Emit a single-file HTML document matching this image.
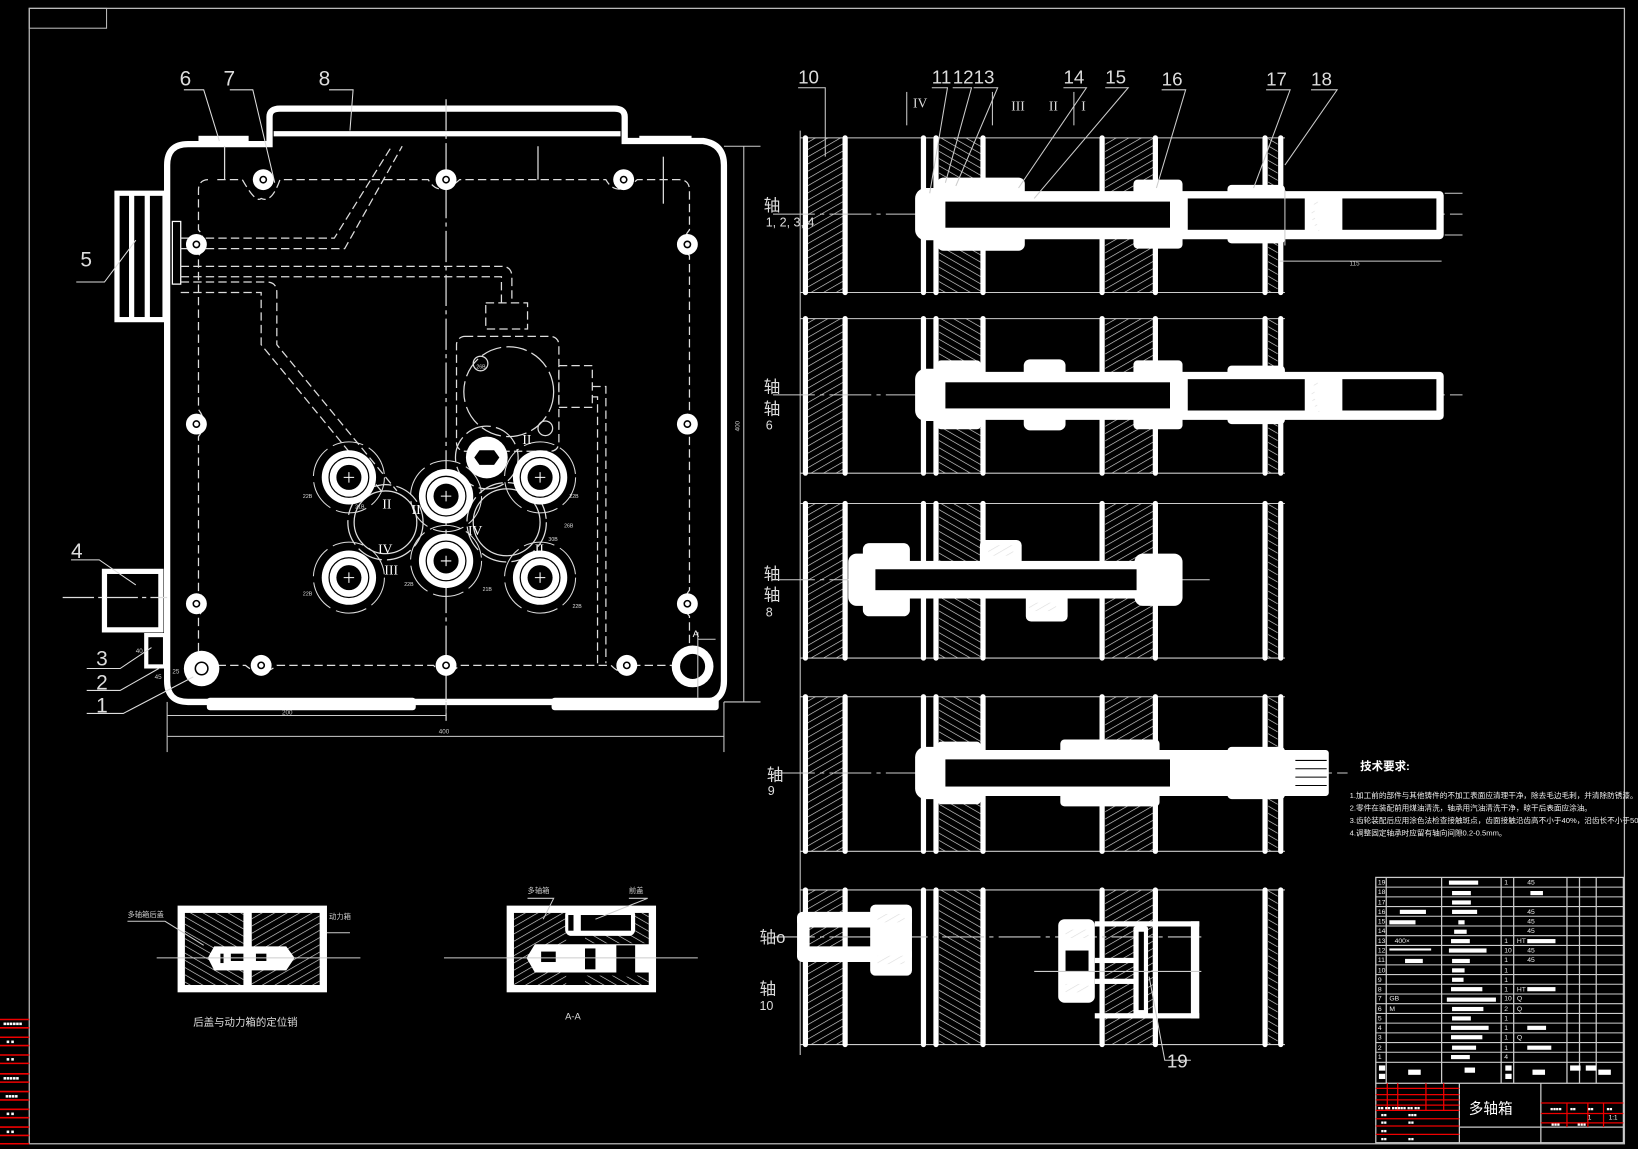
<!DOCTYPE html>
<html><head><meta charset="utf-8"><style>html,body{margin:0;padding:0;background:#000;overflow:hidden}svg{display:block}</style></head>
<body>
<svg width="1638" height="1149" viewBox="0 0 1568 1100" preserveAspectRatio="none" xmlns="http://www.w3.org/2000/svg" font-family="Liberation Sans, Noto Sans CJK SC, sans-serif">
<defs>
<pattern id="h1" width="6" height="6" patternUnits="userSpaceOnUse" patternTransform="rotate(60)"><line x1="0" y1="0" x2="0" y2="6" stroke="#ddd" stroke-width="1.2"/></pattern>
<pattern id="h2" width="6" height="6" patternUnits="userSpaceOnUse" patternTransform="rotate(-60)"><line x1="0" y1="0" x2="0" y2="6" stroke="#ddd" stroke-width="1.2"/></pattern>
<g id="plates">
<line x1="766" y1="0" x2="1230" y2="0" stroke="#ccc" stroke-width="1"/>
<line x1="766" y1="148" x2="1230" y2="148" stroke="#ccc" stroke-width="1"/>
<rect x="773" y="0" width="34" height="148" fill="url(#h1)"/>
<rect x="899" y="0" width="40" height="148" fill="url(#h2)"/>
<rect x="1058" y="0" width="46" height="148" fill="url(#h1)"/>
<rect x="1214" y="0" width="9" height="148" fill="url(#h2)"/>
<g stroke="#fff" stroke-width="5" stroke-linecap="round">
<line x1="771" y1="0" x2="771" y2="148"/><line x1="809" y1="0" x2="809" y2="148"/>
<line x1="884" y1="0" x2="884" y2="148"/><line x1="896" y1="0" x2="896" y2="148"/><line x1="941" y1="0" x2="941" y2="148"/>
<line x1="1055" y1="0" x2="1055" y2="148"/><line x1="1106" y1="0" x2="1106" y2="148"/>
<line x1="1211" y1="0" x2="1211" y2="148"/><line x1="1226" y1="0" x2="1226" y2="148"/>
</g>
</g>
<g id="sp"><circle r="26" fill="#fff"/><circle r="19" fill="none" stroke="#000" stroke-width="1.2"/><circle r="12" fill="#000"/><path d="M-5 0H5M0 -5V5" stroke="#fff" stroke-width="1"/><circle r="34" fill="none" stroke="#ddd" stroke-width="1" stroke-dasharray="30 6"/></g>
<g id="bh"><circle r="10" fill="#fff"/><circle r="3" fill="none" stroke="#000" stroke-width="1.5"/></g>
</defs>
<rect width="1568" height="1100" fill="#000"/>
<rect x="28" y="8" width="1527" height="1087" fill="none" stroke="#bbb" stroke-width="1.2"/>
<rect x="28" y="8" width="74" height="19" fill="none" stroke="#bbb" stroke-width="1"/>
<g stroke="#e00" stroke-width="1.5">
<line x1="0" y1="976" x2="28" y2="976"/><line x1="0" y1="984" x2="28" y2="984"/>
<line x1="0" y1="993" x2="28" y2="993"/><line x1="0" y1="1001" x2="28" y2="1001"/>
<line x1="0" y1="1010" x2="28" y2="1010"/><line x1="0" y1="1018" x2="28" y2="1018"/>
<line x1="0" y1="1028" x2="28" y2="1028"/><line x1="0" y1="1036" x2="28" y2="1036"/>
<line x1="0" y1="1045" x2="28" y2="1045"/><line x1="0" y1="1053" x2="28" y2="1053"/>
<line x1="0" y1="1062" x2="28" y2="1062"/><line x1="0" y1="1070" x2="28" y2="1070"/>
<line x1="0" y1="1079" x2="28" y2="1079"/><line x1="0" y1="1087" x2="28" y2="1087"/>
<line x1="0" y1="1095" x2="28" y2="1095"/>
</g>
<g fill="#fff" font-size="5"><text x="3" y="982">■■■■■■</text><text x="6" y="999">■ ■</text><text x="6" y="1016">■ ■</text><text x="3" y="1034">■■■■■</text><text x="5" y="1051">■■■■</text><text x="6" y="1068">■ ■</text><text x="6" y="1085">■ ■</text></g>

<g stroke="#fff" fill="none">
<path d="M160 158 Q160 138 180 138 H258 V112 Q258 104 268 104 H588 Q598 104 598 112 V135 H673 Q693 138 693 158 V652 Q693 672 673 672 H180 Q160 672 160 652 Z" stroke-width="6"/>
<line x1="262" y1="128" x2="594" y2="128" stroke-width="5"/>
<rect x="190" y="130" width="48" height="6" fill="#fff" stroke-width="0"/>
<rect x="612" y="130" width="50" height="6" fill="#fff" stroke-width="0"/>
<rect x="198" y="668" width="200" height="12" fill="#fff" stroke-width="0" rx="3"/>
<rect x="528" y="668" width="160" height="12" fill="#fff" stroke-width="0" rx="3"/>
<rect x="112" y="185" width="46" height="121" stroke-width="5"/>
<line x1="126" y1="187" x2="126" y2="305" stroke-width="5"/><line x1="141" y1="187" x2="141" y2="305" stroke-width="5"/>
<rect x="100" y="547" width="54" height="56" stroke-width="5"/>
<rect x="140" y="608" width="18" height="30" stroke-width="4"/>
<rect x="165" y="212" width="8" height="60" stroke-width="1.2"/>
</g>
<g stroke="#ddd" fill="none" stroke-width="1.2" stroke-dasharray="8 4">
<path d="M208 172 H232 Q245 195 250 190 Q260 195 268 172 H410 Q420 190 440 172 H580 Q590 190 610 172 H650 Q660 172 660 182 V220 Q650 232 660 245 V395 Q650 405 660 418 V565 Q650 578 660 590 V625 Q660 637 650 637 H610 Q597 650 585 637 H440 Q427 650 415 637 H265 Q250 650 235 637 H200 Q190 637 190 627 V590 Q200 578 190 566 V418 Q200 405 190 392 V245 Q200 232 190 220 V182 Q190 172 200 172"/>
<path d="M173 228 H320 L375 140"/><path d="M173 238 H330 L385 140"/>
<path d="M173 255 H480 Q490 255 490 265 V290"/><path d="M173 265 H480 V290"/>
<path d="M173 270 H255 Q265 270 265 280 V330 L380 470"/><path d="M173 280 H250 V330 L365 470"/>
<rect x="465" y="290" width="40" height="25"/>
<rect x="437" y="322" width="98" height="110" rx="8"/>
<rect x="535" y="350" width="32" height="40"/>
<path d="M567 370 H580 V635"/><path d="M567 380 H572 V635"/>
<line x1="215" y1="140" x2="215" y2="172" stroke-dasharray="none"/>
<line x1="515" y1="140" x2="515" y2="172" stroke-dasharray="none"/>
<line x1="635" y1="150" x2="635" y2="195" stroke-dasharray="none"/>
</g>
<g stroke="#ddd" fill="none" stroke-width="1.2">
<line x1="427" y1="95" x2="427" y2="690" stroke-dasharray="30 4 4 4"/>
<line x1="60" y1="572" x2="160" y2="572" stroke-dasharray="30 4 4 4"/>
<circle cx="487" cy="375" r="43" stroke-dasharray="20 5"/>
<circle cx="369" cy="500" r="36" stroke-dasharray="25 5"/>
<circle cx="485" cy="500" r="38" stroke-dasharray="25 5"/>
<circle cx="369" cy="500" r="30"/>
<circle cx="485" cy="500" r="32"/>
<circle cx="466" cy="438" r="30" stroke-dasharray="25 5"/>
<circle cx="460" cy="348" r="7"/><circle cx="522" cy="410" r="7"/>
</g>
<use href="#sp" x="334" y="457"/><use href="#sp" x="427" y="475"/><use href="#sp" x="517" y="457"/>
<use href="#sp" x="334" y="553"/><use href="#sp" x="427" y="537"/><use href="#sp" x="517" y="553"/>
<circle cx="466" cy="438" r="20" fill="#fff"/><polygon points="459,431 473,431 478,438 473,445 459,445 454,438" fill="#000"/>
<g fill="#fff" font-family="Liberation Serif, serif" font-size="13"><text x="362" y="530">IV</text><text x="448" y="512">IV</text><text x="366" y="487">II</text><text x="368" y="550">III</text><text x="394" y="492">II</text><text x="500" y="425">II</text><text x="512" y="530">II</text></g>
<g fill="#ddd" font-size="5"><text x="290" y="477">22B</text><text x="340" y="487">21B</text><text x="290" y="570">22B</text><text x="387" y="561">22B</text><text x="462" y="566">21B</text><text x="548" y="582">22B</text><text x="545" y="477">22B</text><text x="540" y="505">26B</text><text x="525" y="518">30B</text><text x="456" y="353">26B</text></g>
<use href="#bh" x="252" y="172"/><use href="#bh" x="427" y="172"/><use href="#bh" x="597" y="172"/>
<use href="#bh" x="188" y="234"/><use href="#bh" x="658" y="234"/><use href="#bh" x="188" y="406"/><use href="#bh" x="658" y="406"/>
<use href="#bh" x="188" y="578"/><use href="#bh" x="658" y="578"/><use href="#bh" x="250" y="637"/><use href="#bh" x="427" y="637"/><use href="#bh" x="600" y="637"/>
<circle cx="193" cy="640" r="17" fill="#fff"/><circle cx="193" cy="640" r="6" fill="none" stroke="#000" stroke-width="1.5"/>
<circle cx="663" cy="638" r="20" fill="#fff"/><circle cx="663" cy="638" r="12" fill="#000"/>
<g stroke="#ccc" stroke-width="1" fill="none">
<line x1="693" y1="140" x2="728" y2="140"/><line x1="693" y1="672" x2="728" y2="672"/><line x1="712" y1="140" x2="712" y2="672"/>
<line x1="160" y1="672" x2="160" y2="720"/><line x1="693" y1="672" x2="693" y2="720"/><line x1="160" y1="705" x2="693" y2="705"/>
<line x1="427" y1="672" x2="427" y2="690"/><line x1="160" y1="685" x2="427" y2="685"/>
<line x1="668" y1="612" x2="685" y2="612"/><line x1="668" y1="605" x2="668" y2="668"/>
</g>
<g fill="#ccc" font-size="6"><text x="708" y="413" transform="rotate(-90 708 413)">400</text><text x="420" y="702">400</text><text x="270" y="684">200</text><text x="165" y="645">25</text><text x="130" y="625">40</text><text x="148" y="650">45</text></g>
<text x="663" y="610" fill="#fff" font-size="9">A</text>
<g stroke="#ddd" stroke-width="1" fill="none">
<path d="M176 86 H195 L210 135"/><path d="M220 86 H242 L263 175"/><path d="M315 86 H338 L335 125"/>
<path d="M73 270 H100 L130 230"/><path d="M68 536 H95 L130 560"/>
<path d="M83 640 H115 L145 620"/><path d="M83 661 H115 L152 640"/><path d="M83 683 H118 L185 648"/>
</g>
<g fill="#ddd" font-size="20"><text x="172" y="82">6</text><text x="214" y="82">7</text><text x="305" y="82">8</text><text x="77" y="255">5</text><text x="68" y="534">4</text><text x="92" y="637">3</text><text x="92" y="660">2</text><text x="92" y="682">1</text></g>

<!-- bottom small views -->
<g>
<rect x="170" y="867" width="143" height="83" fill="#fff"/>
<rect x="177" y="874" width="56" height="69" fill="#000"/><rect x="241" y="874" width="65" height="69" fill="#000"/>
<rect x="177" y="874" width="56" height="69" fill="url(#h2)"/><rect x="241" y="874" width="65" height="69" fill="url(#h1)"/>
<path d="M205 906 H274 L282 917 L274 929 H205 L199 917 Z" fill="#fff"/>
<rect x="211" y="913" width="3" height="9" fill="#000"/><rect x="221" y="913" width="12" height="7" fill="#000"/><rect x="245" y="913" width="10" height="7" fill="#000"/>
<line x1="150" y1="917" x2="345" y2="917" stroke="#ccc" stroke-width="1"/>
<path d="M122 882 H158 L195 905" stroke="#ccc" fill="none" stroke-width="1"/>
<path d="M313 893 H335" stroke="#ccc" stroke-width="1"/>
<text x="122" y="878" fill="#ccc" font-size="7">多轴箱后盖</text><text x="315" y="880" fill="#ccc" font-size="7">动力箱</text>
<text x="185" y="982" fill="#ddd" font-size="10">后盖与动力箱的定位销</text>
<rect x="485" y="867" width="143" height="83" fill="#fff"/>
<rect x="492" y="874" width="129" height="69" fill="#000"/>
<rect x="492" y="874" width="50" height="69" fill="url(#h1)"/><rect x="560" y="934" width="61" height="9" fill="url(#h2)"/><rect x="560" y="895" width="61" height="8" fill="url(#h2)"/><rect x="608" y="874" width="13" height="21" fill="url(#h2)"/>
<rect x="541" y="870" width="67" height="26" rx="6" fill="#fff"/>
<rect x="556" y="876" width="48" height="15" fill="#000"/><rect x="544" y="876" width="5" height="15" fill="#000"/>
<path d="M512 904 H622 V931 H512 L504 917 Z" fill="#fff"/>
<rect x="518" y="911" width="14" height="10" fill="#000"/><rect x="560" y="908" width="10" height="20" fill="#000"/><rect x="590" y="905" width="18" height="30" fill="#000"/>
<line x1="425" y1="917" x2="668" y2="917" stroke="#ccc" stroke-width="1"/>
<path d="M505 860 H530 L520 880" stroke="#ccc" fill="none" stroke-width="1"/>
<path d="M602 860 H620 L570 880" stroke="#ccc" fill="none" stroke-width="1"/>
<text x="505" y="855" fill="#ccc" font-size="7">多轴箱</text><text x="602" y="855" fill="#ccc" font-size="7">前盖</text>
<text x="541" y="976" fill="#ddd" font-size="9">A-A</text>
</g>

<line x1="766" y1="125" x2="766" y2="1010" stroke="#ccc" stroke-width="1"/>
<use href="#plates" y="132"/><use href="#plates" y="305"/><use href="#plates" y="482"/><use href="#plates" y="667"/><use href="#plates" y="852"/>
<g stroke="#ccc" stroke-width="1" stroke-dasharray="40 5 4 5">
<line x1="740" y1="205" x2="1400" y2="205"/><line x1="740" y1="378" x2="1400" y2="378"/><line x1="740" y1="555" x2="1160" y2="555"/><line x1="740" y1="740" x2="1290" y2="740"/><line x1="740" y1="897" x2="1150" y2="897"/>
</g>
<g fill="#fff">
<rect x="876" y="180" width="52" height="50" rx="10"/><rect x="897" y="170" width="84" height="70" rx="6"/>
<rect x="1085" y="172" width="47" height="66" rx="4"/><rect x="1175" y="177" width="55" height="56" rx="4"/>
<rect x="880" y="183" width="502" height="46" rx="4"/>
</g>
<g fill="#000"><rect x="905" y="193" width="215" height="25"/><rect x="1137" y="190" width="112" height="30"/><rect x="1285" y="190" width="90" height="30"/></g>
<path d="M1265 185 Q1245 205 1265 225 L1258 205 Z" fill="url(#h1)" stroke="#fff"/>
<g stroke="#ccc" stroke-width="1"><line x1="1230" y1="182" x2="1230" y2="235"/><line x1="1225" y1="250" x2="1380" y2="250"/><line x1="1383" y1="185" x2="1400" y2="185"/><line x1="1383" y1="225" x2="1400" y2="225"/></g>
<text x="1292" y="254" fill="#ccc" font-size="6">115</text>
<g fill="#fff">
<rect x="876" y="353" width="52" height="50" rx="10"/><rect x="897" y="345" width="42" height="66" rx="4"/>
<rect x="980" y="344" width="40" height="68" rx="6"/>
<rect x="1085" y="345" width="47" height="66" rx="4"/><rect x="1175" y="350" width="55" height="56" rx="4"/>
<rect x="880" y="356" width="502" height="46" rx="4"/>
</g>
<g fill="#000"><rect x="905" y="366" width="215" height="25"/><rect x="1137" y="363" width="112" height="30"/><rect x="1285" y="363" width="90" height="30"/></g>
<path d="M1265 358 Q1245 378 1265 398 L1258 378 Z" fill="url(#h1)" stroke="#fff"/>
<g fill="#fff">
<rect x="812" y="530" width="25" height="50" rx="8"/><rect x="826" y="520" width="45" height="70" rx="6"/>
<rect x="938" y="517" width="40" height="40" rx="5"/><rect x="982" y="555" width="40" height="40" rx="5"/>
<rect x="1086" y="530" width="46" height="50" rx="8"/>
<rect x="820" y="537" width="300" height="36"/>
</g>
<rect x="838" y="545" width="250" height="20" fill="#000"/>
<rect x="946" y="522" width="24" height="10" fill="url(#h1)"/><rect x="985" y="577" width="26" height="8" fill="url(#h1)"/>
<g fill="#fff">
<rect x="876" y="715" width="52" height="50" rx="10"/><rect x="897" y="710" width="42" height="60" rx="4"/>
<rect x="1015" y="708" width="95" height="64" rx="4"/><rect x="1175" y="715" width="55" height="50" rx="4"/>
<rect x="880" y="718" width="392" height="44" rx="3"/>
</g>
<rect x="905" y="727" width="215" height="26" fill="#000"/>
<g stroke="#000" stroke-width="1"><line x1="1240" y1="728" x2="1270" y2="728"/><line x1="1240" y1="736" x2="1270" y2="736"/><line x1="1240" y1="744" x2="1270" y2="744"/><line x1="1240" y1="752" x2="1270" y2="752"/></g>
<g fill="#fff">
<rect x="763" y="873" width="110" height="15" rx="6"/><rect x="763" y="906" width="110" height="15" rx="6"/>
<rect x="763" y="873" width="12" height="48" rx="5"/>
<rect x="833" y="866" width="40" height="68" rx="5"/>
<rect x="1013" y="880" width="35" height="80" rx="6"/>
<rect x="1048" y="882" width="100" height="5"/><rect x="1048" y="970" width="100" height="5"/><rect x="1140" y="882" width="8" height="93"/>
<rect x="1048" y="917" width="40" height="5"/><rect x="1048" y="937" width="40" height="5"/>
<rect x="1085" y="887" width="14" height="85" rx="2"/>
</g>
<rect x="840" y="875" width="26" height="8" fill="url(#h1)"/><rect x="840" y="915" width="26" height="8" fill="url(#h1)"/>
<rect x="1020" y="890" width="22" height="8" fill="url(#h1)"/><rect x="1020" y="942" width="22" height="8" fill="url(#h1)"/>
<rect x="1020" y="910" width="22" height="20" fill="#000"/>
<rect x="1090" y="892" width="5" height="75" fill="#000"/>
<line x1="990" y1="930" x2="1150" y2="930" stroke="#ccc" stroke-width="1"/>
<path d="M1100 935 L1115 1015 H1140" stroke="#ccc" fill="none"/>
<g fill="#ddd" font-size="16">
<text x="731" y="202">轴</text><text x="731" y="376">轴</text><text x="731" y="397">轴</text><text x="731" y="555">轴</text><text x="731" y="575">轴</text><text x="734" y="747">轴</text><text x="727" y="903">轴o</text><text x="727" y="952">轴</text>
</g>
<g fill="#ddd" font-size="12"><text x="733" y="217">1, 2, 3, 4</text><text x="733" y="411">6</text><text x="733" y="590">8</text><text x="735" y="761">9</text><text x="727" y="967">10</text></g>
<g fill="#ddd" font-size="18">
<text x="764" y="80">10</text><text x="892" y="80">11</text><text x="912" y="80">12</text><text x="932" y="80">13</text><text x="1018" y="80">14</text><text x="1058" y="80">15</text><text x="1112" y="82">16</text><text x="1212" y="82">17</text><text x="1255" y="82">18</text><text x="1117" y="1022">19</text>
</g>
<g stroke="#ccc" stroke-width="1" fill="none">
<path d="M764 84 H790 L790 150"/><path d="M892 84 H907 L890 185"/><path d="M912 84 H930 L905 175"/><path d="M932 84 H955 L915 178"/>
<path d="M1018 84 H1040 L975 180"/><path d="M1058 84 H1080 L990 190"/><path d="M1112 86 H1135 L1107 180"/><path d="M1212 86 H1235 L1200 180"/><path d="M1255 86 H1280 L1230 158"/>
<line x1="868" y1="88" x2="868" y2="120"/><line x1="950" y1="88" x2="950" y2="120"/><line x1="1028" y1="88" x2="1028" y2="120"/>
</g>
<g fill="#ddd" font-family="Liberation Serif, serif" font-size="13"><text x="874" y="103">IV</text><text x="968" y="106">III</text><text x="1004" y="106">II</text><text x="1035" y="106">I</text></g>

<text x="1302" y="737" fill="#fff" font-size="11" font-weight="bold">技术要求:</text>
<g fill="#eee" font-size="7.3">
<text x="1292" y="764">1.加工前的部件与其他铸件的不加工表面应清理干净，除去毛边毛刺，并清除防锈漆。</text>
<text x="1292" y="776">2.零件在装配前用煤油清洗，轴承用汽油清洗干净，晾干后表面应涂油。</text>
<text x="1292" y="788">3.齿轮装配后应用涂色法检查接触斑点，齿面接触沿齿高不小于40%，沿齿长不小于50%；</text>
<text x="1292" y="800">4.调整固定轴承时应留有轴向间隙0.2-0.5mm。</text>
</g>

<g stroke="#ccc" stroke-width="1.2" fill="none">
<rect x="1317" y="840" width="237" height="254"/>
<line x1="1327" y1="840" x2="1327" y2="1037"/><line x1="1380" y1="840" x2="1380" y2="1037"/><line x1="1437" y1="840" x2="1437" y2="1037"/><line x1="1449" y1="840" x2="1449" y2="1037"/><line x1="1500" y1="840" x2="1500" y2="1037"/><line x1="1512" y1="840" x2="1512" y2="1037"/><line x1="1528" y1="840" x2="1528" y2="1037"/>
<line x1="1317" y1="1037" x2="1554" y2="1037"/>
<line x1="1397" y1="1037" x2="1397" y2="1094"/><line x1="1475" y1="1037" x2="1475" y2="1094"/><line x1="1397" y1="1079" x2="1554" y2="1079"/>
</g>
<g stroke="#ccc" stroke-width="1">
<line x1="1317" y1="849.3" x2="1554" y2="849.3"/><line x1="1317" y1="858.6" x2="1554" y2="858.6"/><line x1="1317" y1="867.9" x2="1554" y2="867.9"/><line x1="1317" y1="877.2" x2="1554" y2="877.2"/><line x1="1317" y1="886.5" x2="1554" y2="886.5"/><line x1="1317" y1="895.8" x2="1554" y2="895.8"/><line x1="1317" y1="905.1" x2="1554" y2="905.1"/><line x1="1317" y1="914.4" x2="1554" y2="914.4"/><line x1="1317" y1="923.7" x2="1554" y2="923.7"/><line x1="1317" y1="933" x2="1554" y2="933"/><line x1="1317" y1="942.3" x2="1554" y2="942.3"/><line x1="1317" y1="951.6" x2="1554" y2="951.6"/><line x1="1317" y1="960.9" x2="1554" y2="960.9"/><line x1="1317" y1="970.2" x2="1554" y2="970.2"/><line x1="1317" y1="979.5" x2="1554" y2="979.5"/><line x1="1317" y1="988.8" x2="1554" y2="988.8"/><line x1="1317" y1="998.1" x2="1554" y2="998.1"/><line x1="1317" y1="1007.4" x2="1554" y2="1007.4"/><line x1="1317" y1="1017" x2="1554" y2="1017"/>
</g>
<g fill="#eee" font-size="6.5">
<text x="1319" y="847">19</text><text x="1319" y="856">18</text><text x="1319" y="866">17</text><text x="1319" y="875">16</text><text x="1319" y="884">15</text><text x="1319" y="893">14</text><text x="1319" y="903">13</text><text x="1319" y="912">12</text><text x="1319" y="921">11</text><text x="1319" y="931">10</text><text x="1319" y="940">9</text><text x="1319" y="949">8</text><text x="1319" y="958">7</text><text x="1319" y="968">6</text><text x="1319" y="977">5</text><text x="1319" y="986">4</text><text x="1319" y="995">3</text><text x="1319" y="1005">2</text><text x="1319" y="1014">1</text>
<text x="1462" y="847">45</text><text x="1462" y="875">45</text><text x="1462" y="884">45</text><text x="1462" y="893">45</text><text x="1462" y="912">45</text><text x="1462" y="921">45</text><text x="1452" y="903">HT</text><text x="1452" y="949">HT</text><text x="1452" y="958">Q</text><text x="1452" y="968">Q</text><text x="1452" y="995">Q</text>
<text x="1440" y="847">1</text><text x="1440" y="903">1</text><text x="1440" y="912">10</text><text x="1440" y="921">1</text><text x="1440" y="931">1</text><text x="1440" y="940">1</text><text x="1440" y="949">1</text><text x="1440" y="958">10</text><text x="1440" y="968">2</text><text x="1440" y="977">1</text><text x="1440" y="986">1</text><text x="1440" y="995">1</text><text x="1440" y="1005">1</text><text x="1440" y="1014">4</text>
<text x="1335" y="903">400×</text><text x="1330" y="958">GB</text><text x="1330" y="968">M</text>
</g>
<g fill="#fff">
<rect x="1387" y="843" width="28" height="4"/><rect x="1390" y="853" width="18" height="4"/><rect x="1390" y="862" width="18" height="4"/><rect x="1390" y="871" width="24" height="4"/><rect x="1396" y="881" width="6" height="4"/><rect x="1392" y="890" width="12" height="4"/><rect x="1389" y="899" width="18" height="4"/><rect x="1387" y="908" width="36" height="4"/><rect x="1390" y="918" width="17" height="4"/><rect x="1390" y="927" width="12" height="4"/><rect x="1390" y="936" width="11" height="4"/><rect x="1389" y="945" width="30" height="4"/><rect x="1385" y="955" width="47" height="4"/><rect x="1390" y="964" width="30" height="4"/><rect x="1390" y="973" width="18" height="4"/><rect x="1389" y="982" width="36" height="4"/><rect x="1389" y="991" width="30" height="4"/><rect x="1390" y="1001" width="23" height="4"/><rect x="1389" y="1010" width="18" height="4"/>
<rect x="1465" y="853" width="12" height="4"/><rect x="1462" y="899" width="27" height="4"/><rect x="1462" y="945" width="27" height="4"/><rect x="1462" y="982" width="18" height="4"/><rect x="1462" y="1001" width="23" height="4"/><rect x="1340" y="871" width="25" height="4"/><rect x="1330" y="881" width="25" height="4"/><rect x="1345" y="918" width="17" height="4"/><rect x="1330" y="908" width="40" height="2"/>
<rect x="1320" y="1020" width="6" height="5"/><rect x="1320" y="1028" width="6" height="5"/><rect x="1348" y="1024" width="12" height="5"/><rect x="1402" y="1022" width="10" height="5"/><rect x="1441" y="1020" width="6" height="5"/><rect x="1441" y="1028" width="6" height="5"/><rect x="1467" y="1024" width="12" height="5"/><rect x="1503" y="1020" width="10" height="5"/><rect x="1518" y="1020" width="10" height="5"/><rect x="1530" y="1024" width="12" height="5"/>
</g>
<g stroke="#e00" stroke-width="1.2">
<line x1="1317" y1="1042" x2="1397" y2="1042"/><line x1="1317" y1="1048" x2="1397" y2="1048"/><line x1="1317" y1="1053" x2="1397" y2="1053"/><line x1="1317" y1="1058" x2="1397" y2="1058"/><line x1="1317" y1="1063" x2="1397" y2="1063"/><line x1="1317" y1="1071" x2="1397" y2="1071"/><line x1="1317" y1="1078" x2="1397" y2="1078"/><line x1="1317" y1="1086" x2="1397" y2="1086"/>
<line x1="1328" y1="1037" x2="1328" y2="1063"/><line x1="1338" y1="1037" x2="1338" y2="1063"/><line x1="1365" y1="1037" x2="1365" y2="1063"/><line x1="1382" y1="1037" x2="1382" y2="1063"/>
<line x1="1475" y1="1066" x2="1554" y2="1066"/><line x1="1475" y1="1075" x2="1554" y2="1075"/><line x1="1475" y1="1056" x2="1554" y2="1056"/>
<line x1="1500" y1="1056" x2="1500" y2="1079"/><line x1="1520" y1="1056" x2="1520" y2="1079"/><line x1="1535" y1="1056" x2="1535" y2="1079"/>
</g>
<text x="1406" y="1066" fill="#fff" font-size="14">多轴箱</text>
<g fill="#fff" font-size="4.5"><text x="1319" y="1062">■■ ■■ ■■■■■ ■■ ■■</text><text x="1322" y="1069">■■</text><text x="1348" y="1069">■■■</text><text x="1322" y="1076">■■</text><text x="1348" y="1076">■■</text><text x="1322" y="1084">■■</text><text x="1322" y="1092">■■</text><text x="1348" y="1092">■■</text><text x="1484" y="1063">■■■■</text><text x="1503" y="1063">■■</text><text x="1520" y="1063">■■</text><text x="1538" y="1063">■■</text><text x="1485" y="1078">■■■</text><text x="1510" y="1078">■■■</text></g>
<g fill="#fff" font-size="6"><text x="1520" y="1072">1</text><text x="1540" y="1072">1:1</text></g>
</svg>
</body></html>
